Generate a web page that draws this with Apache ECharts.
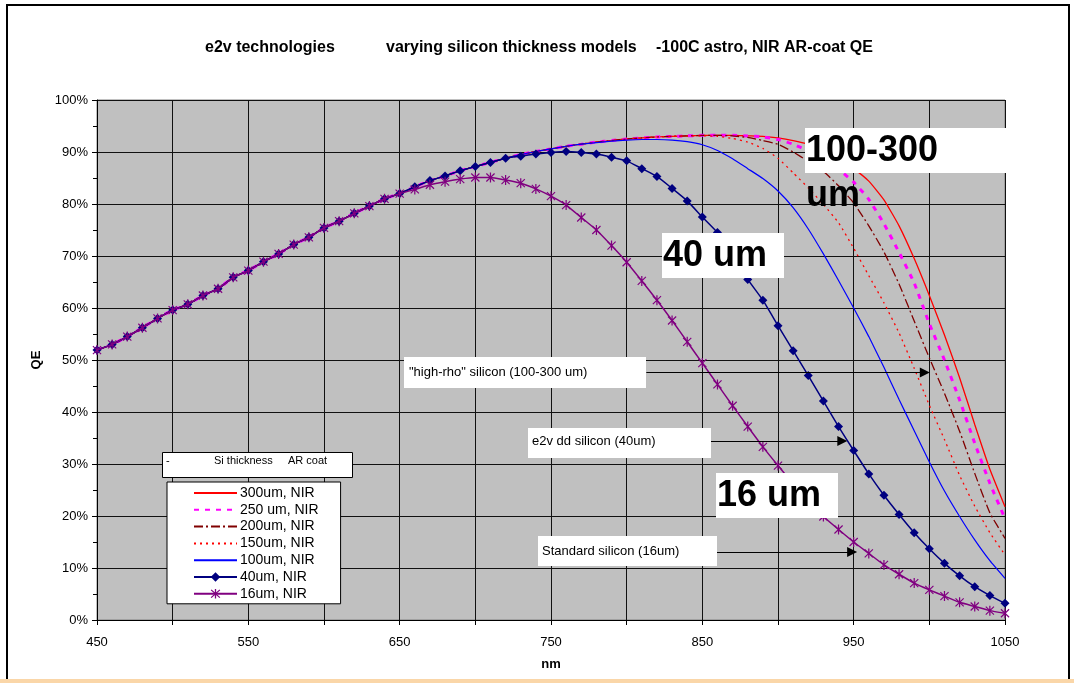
<!DOCTYPE html>
<html>
<head>
<meta charset="utf-8">
<title>e2v varying silicon thickness models</title>
<script src="https://cdn.jsdelivr.net/npm/echarts@6/dist/echarts.min.js"></script>
<style>
html, body { margin: 0; padding: 0; background: #fff; }
#chart { width: 1074px; height: 683px; }
</style>
</head>
<body>
<div id="chart"></div>
<script>
// wavelength (nm)
var nm = [450, 460, 470, 480, 490, 500, 510, 520, 530, 540,
          550, 560, 570, 580, 590, 600, 610, 620, 630, 640,
          650, 660, 670, 680, 690, 700, 710, 720, 730, 740,
          750, 760, 770, 780, 790, 800, 810, 820, 830, 840,
          850, 860, 870, 880, 890, 900, 910, 920, 930, 940,
          950, 960, 970, 980, 990, 1000, 1010, 1020, 1030, 1040, 1050];

// QE (%) - 450..650 nm, the same for every thickness
var qeCommon = [51.9, 53.0, 54.5, 56.2, 58.0, 59.6, 60.7, 62.4, 63.7, 65.9,
                67.2, 68.9, 70.4, 72.2, 73.6, 75.4, 76.7, 78.2, 79.6, 81.0, 82.0];
// 660..720 nm, all but the 16um curve
var qeNear = [83.3, 84.5, 85.4, 86.4, 87.2, 88.0, 88.8];

// 730..1050 nm
var qe300 = [89.5, 90.1, 90.6, 91.1, 91.5, 91.9, 92.2, 92.5, 92.7, 92.9,
             93.0, 93.1, 93.2, 93.2, 93.2, 93.1, 93.0, 92.7, 92.2, 91.5,
             90.4, 88.8, 86.8, 84.4, 80.8, 75.8, 69.5, 62.4, 54.8, 46.6,
             37.6, 29.0, 21.8];
var qe250 = [89.5, 90.1, 90.6, 91.1, 91.5, 91.9, 92.2, 92.5, 92.7, 92.9,
             93.0, 93.1, 93.2, 93.2, 93.2, 93.1, 92.9, 92.4, 91.5, 90.2,
             88.6, 86.7, 84.2, 80.9, 76.2, 70.7, 64.8, 57.0, 50.0, 42.3,
             34.0, 26.3, 19.5];
var qe200 = [89.5, 90.1, 90.6, 91.1, 91.5, 91.9, 92.2, 92.5, 92.7, 92.9,
             93.0, 93.1, 93.2, 93.2, 93.1, 92.8, 92.2, 91.5, 90.0, 88.2,
             86.3, 83.5, 80.2, 75.8, 70.8, 64.6, 57.5, 50.4, 43.6, 36.3,
             28.2, 20.6, 15.7];
var qe150 = [89.5, 90.1, 90.6, 91.1, 91.5, 91.9, 92.2, 92.5, 92.7, 92.9,
             93.0, 93.1, 93.1, 93.0, 92.6, 91.9, 90.7, 88.8, 86.0, 83.1,
             79.9, 76.4, 71.5, 66.2, 61.0, 55.2, 48.4, 41.3, 34.7, 27.8,
             21.9, 16.8, 12.5];
var qe100 = [89.5, 90.1, 90.6, 91.1, 91.5, 91.8, 92.1, 92.3, 92.4, 92.4,
             92.3, 92.0, 91.4, 90.3, 88.7, 86.8, 84.9, 82.5, 79.3, 75.2,
             70.4, 65.3, 60.0, 54.5, 48.6, 42.4, 36.4, 30.4, 24.8, 19.9,
             15.4, 11.4, 8.0];
var qe40 = [89.2, 89.6, 89.9, 90.1, 89.9, 89.6, 89.0, 88.3, 86.8, 85.3,
            83.0, 80.6, 77.5, 74.5, 70.2, 65.5, 61.5, 56.6, 51.8, 47.0,
            42.1, 37.2, 32.6, 28.1, 24.0, 20.3, 16.8, 13.7, 10.9, 8.5,
            6.4, 4.7, 3.2];
// 660..1050 nm
var qe16 = [82.8, 83.7, 84.3, 84.8, 85.1, 85.1, 84.6, 84.0, 82.9, 81.5,
            79.8, 77.4, 75.0, 72.0, 68.8, 65.2, 61.5, 57.6, 53.5, 49.4,
            45.3, 41.2, 37.2, 33.3, 29.7, 26.2, 22.9, 19.9, 17.4, 15.0,
            12.8, 10.6, 8.8, 7.1, 5.8, 4.6, 3.4, 2.6, 1.8, 1.3];

var names = ['300um, NIR', '250 um, NIR', '200um, NIR', '150um, NIR', '100um, NIR', '40um, NIR', '16um, NIR'];

// annotation arrows [nm, QE%] start -> end
var arrowHigh = [[813, 47.6], [997, 47.6]];
var arrowDd = [[855.5, 34.4], [942.5, 34.4]];
var arrowStd = [[859.6, 13.1], [949, 13.1]];

var font = '"Liberation Sans", Arial, sans-serif';
var starPath = 'path://M-0.6,-5L0.6,-5L0.6,5L-0.6,5Z M-4.4,-3.6L-3.6,-4.4L4.4,3.6L3.6,4.4Z M3.6,-4.4L4.4,-3.6L-3.6,4.4L-4.4,3.6Z';

var pairs = function(vals) {
	return vals.map(function(v, i) { return [nm[i], v]; });
};

var lineSeries = function(name, vals, color, width, type) {
	return {
		name: name,
		type: 'line',
		data: pairs(vals),
		symbol: 'none',
		smooth: 0.15,
		color: color,
		lineStyle: { color: color, width: width, type: type || 'solid' },
		z: 2
	};
};

var series = [
	lineSeries(names[0], qeCommon.concat(qeNear, qe300), '#FF0000', 1.3),
	lineSeries(names[1], qeCommon.concat(qeNear, qe250), '#FF00FF', 3, [5, 6]),
	lineSeries(names[2], qeCommon.concat(qeNear, qe200), '#800000', 1.3, [9, 3, 2, 3]),
	lineSeries(names[3], qeCommon.concat(qeNear, qe150), '#FF0000', 1.3, [2, 4]),
	lineSeries(names[4], qeCommon.concat(qeNear, qe100), '#0000FF', 1.2)
];

// arrows go with the 100um series
series[4].markLine = {
	silent: true,
	symbol: ['none', 'triangle'],
	symbolSize: 10,
	label: { show: false },
	lineStyle: { color: '#000', width: 1, type: 'solid' },
	itemStyle: { color: '#000' },
	data: [
		[{ coord: arrowHigh[0] }, { coord: arrowHigh[1] }],
		[{ coord: arrowDd[0] }, { coord: arrowDd[1] }],
		[{ coord: arrowStd[0] }, { coord: arrowStd[1] }]
	]
};

var s40 = lineSeries(names[5], qeCommon.concat(qeNear, qe40), '#000080', 1.5);
s40.symbol = 'diamond';
s40.symbolSize = 9;
s40.showAllSymbol = true;
s40.itemStyle = { color: '#000080' };
s40.z = 3;
series.push(s40);

var s16 = lineSeries(names[6], qeCommon.concat(qe16), '#800080', 1.5);
s16.symbol = starPath;
s16.symbolSize = [9, 10];
s16.showAllSymbol = true;
s16.itemStyle = { color: '#800080' };
s16.z = 4;
series.push(s16);

// legend entries: plain lines have no marker
var legendData = names.map(function(n, i) {
	return i < 5 ? { name: n, itemStyle: { opacity: 0 } } : { name: n };
});

var box = function(x, y, w, h) {
	return { type: 'rect', z: 100, shape: { x: x, y: y, width: w, height: h }, style: { fill: '#fff' } };
};
var txt = function(x, y, text, size, bold) {
	return {
		type: 'text', z: 101, x: x, y: y,
		style: { text: text, fill: '#000', font: (bold ? 'bold ' : '') + size + 'px ' + font, verticalAlign: 'middle' }
	};
};

var option = {
	animation: false,
	backgroundColor: '#fff',
	title: [
		{ text: 'e2v technologies', left: 200, top: 35, textStyle: { fontSize: 16, fontWeight: 'bold', fontFamily: font, color: '#000' } },
		{ text: 'varying silicon thickness models', left: 381, top: 35, textStyle: { fontSize: 16, fontWeight: 'bold', fontFamily: font, color: '#000' } },
		{ text: '-100C astro, NIR AR-coat QE', left: 651, top: 35, textStyle: { fontSize: 16, fontWeight: 'bold', fontFamily: font, color: '#000' } }
	],
	grid: {
		left: 97, right: 69, top: 100, bottom: 63,
		show: true, backgroundColor: '#C0C0C0', borderColor: '#808080', borderWidth: 1
	},
	legend: {
		data: legendData,
		orient: 'vertical',
		left: 167, top: 482,
		selectedMode: false,
		backgroundColor: '#fff',
		borderColor: '#000', borderWidth: 1,
		padding: [4, 22, 3, 26],
		itemWidth: 43, itemHeight: 12, itemGap: 2.8,
		textStyle: { fontSize: 14, fontFamily: font, color: '#000', padding: [0, 0, 0, -2] },
		z: 100
	},
	xAxis: {
		type: 'value',
		min: 450, max: 1050, interval: 50,
		name: 'nm', nameLocation: 'middle', nameGap: 38,
		nameTextStyle: { fontSize: 13, fontWeight: 'bold', fontFamily: font, color: '#000' },
		axisLine: { lineStyle: { color: '#000', width: 1 } },
		axisTick: { show: true, length: 5, lineStyle: { color: '#000' } },
		axisLabel: {
			color: '#000', fontSize: 13, fontFamily: font, margin: 16,
			formatter: function(v) { return (v - 450) % 100 === 0 ? String(v) : ''; }
		},
		splitLine: { show: true, lineStyle: { color: '#111', width: 1 } }
	},
	yAxis: {
		type: 'value',
		min: 0, max: 100, interval: 10,
		name: 'QE', nameLocation: 'middle', nameGap: 54,
		nameTextStyle: { fontSize: 13, fontWeight: 'bold', fontFamily: font, color: '#000' },
		axisLine: { show: true, lineStyle: { color: '#000', width: 1 } },
		axisTick: { show: true, length: 5, lineStyle: { color: '#000' } },
		minorTick: { show: true, splitNumber: 2, length: 4, lineStyle: { color: '#000' } },
		axisLabel: { color: '#000', fontSize: 13, fontFamily: font, margin: 9, formatter: '{value}%' },
		splitLine: { show: true, lineStyle: { color: '#111', width: 1 } }
	},
	graphic: [
		// outer chart frame and bottom band
		{ type: 'rect', z: -1, silent: true, shape: { x: 7, y: 5, width: 1062, height: 720 }, style: { fill: 'none', stroke: '#000', lineWidth: 2 } },
		{ type: 'rect', z: 120, shape: { x: 0, y: 679, width: 1074, height: 4 }, style: { fill: '#FAD6A8' } },
		// legend header
		{ type: 'rect', z: 100, shape: { x: 162.5, y: 452.5, width: 190, height: 25 }, style: { fill: '#fff', stroke: '#000', lineWidth: 1 } },
		txt(166, 461, '-', 11),
		txt(214, 461, 'Si thickness', 11),
		txt(288, 461, 'AR coat', 11),
		// annotation boxes
		box(404, 357, 242, 31), txt(409, 372, '"high-rho" silicon (100-300 um)', 13),
		box(528, 428, 183, 30), txt(532, 441, 'e2v dd silicon (40um)', 13),
		box(538, 536, 179, 30), txt(542, 551, 'Standard silicon (16um)', 13),
		box(805, 128, 202, 45), txt(806, 151, '100-300', 36, true),
		txt(806, 196, 'um', 36, true),
		box(662, 233, 122, 45), txt(663, 256, '40 um', 36, true),
		box(716, 473, 122, 45), txt(717, 496, '16 um', 36, true)
	],
	series: series
};

var myChart = echarts.init(document.getElementById('chart'));
myChart.setOption(option);
</script>
</body>
</html>
